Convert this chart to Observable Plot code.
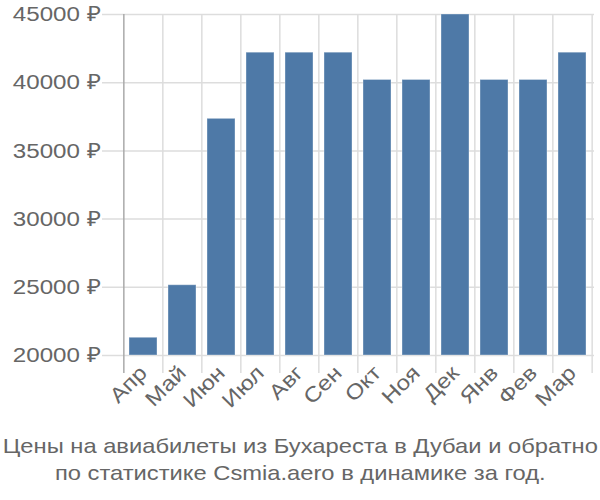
<!DOCTYPE html>
<html><head><meta charset="utf-8">
<script src="https://cdn.jsdelivr.net/npm/d3@7"></script>
<script src="https://cdn.jsdelivr.net/npm/@observablehq/plot@0.6"></script>
<style>
body{margin:0;background:#fff;font-family:"Liberation Sans",Arial,sans-serif;}
#capwrap{text-align:center;margin-top:12px;}
#cap{display:inline-block;color:#666;font-size:21px;line-height:27px;white-space:nowrap;transform:scaleX(1.13);transform-origin:center;}
</style></head><body>
<div id="chart"></div>
<div id="capwrap"><div id="cap">Цены на авиабилеты из Бухареста в Дубаи и обратно<br>по статистике Csmia.aero в динамике за год.</div></div>
<script>
const months = ["Апр","Май","Июн","Июл","Авг","Сен","Окт","Ноя","Дек","Янв","Фев","Мар"];
const prices = [21300, 25150, 37350, 42200, 42200, 42200, 40200, 40200, 45000, 40200, 40200, 42200];
const yTicks = [20000, 25000, 30000, 35000, 40000, 45000];

const data = months.map((m, i) => ({month: m, price: prices[i]}));
const W = 600, H = 420, mL = 122, mR = 6, mT = 14, mB = 65;
const step = (W - mL - mR) / months.length;

const chart = Plot.plot({
  width: W, height: H,
  marginLeft: mL, marginRight: mR, marginTop: mT, marginBottom: mB,
  style: {fontSize: "21px", fontFamily: "'Liberation Sans', Arial, sans-serif", color: "#666", background: "#fff"},
  x: {type: "band", domain: months, paddingInner: 0.28, paddingOuter: 0.14, label: null},
  y: {domain: [20000, 45000], label: null},
  marks: [
    Plot.ruleY(yTicks, {stroke: "#ddd", strokeWidth: 1.5, insetLeft: -20}),
    Plot.ruleX(months, {x: d => d, dx: -step / 2, y1: 45000, y2: 20000, insetBottom: -18, stroke: d => d === months[0] ? "#aaa" : "#ddd", strokeWidth: 1.5}),
    Plot.ruleX([months[months.length - 1]], {x: d => d, dx: step / 2, y1: 45000, y2: 20000, insetBottom: -18, stroke: "#ddd", strokeWidth: 1.5}),
    Plot.barY(data, {x: "month", y1: 20000, y2: "price", fill: "#4e79a7", stroke: "#ffffff", strokeOpacity: 0.35, strokeWidth: 1}),
    Plot.axisY({ticks: yTicks, tickSize: 0, tickPadding: 22, tickFormat: d => d + " ₽", fill: "#666"}),
    Plot.axisX({tickSize: 0, tickRotate: -45, tickPadding: 14, fill: "#666"})
  ]
});
// widen the tick labels horizontally to match the reference's stretched lettering
chart.querySelectorAll('g[aria-label="y-axis tick label"] text, g[aria-label="x-axis tick label"] text').forEach(t => {
  const tr = t.getAttribute("transform") || "";
  t.setAttribute("transform", tr + " scale(1.15,1)");
});
document.getElementById("chart").appendChild(chart);
</script>
</body></html>
